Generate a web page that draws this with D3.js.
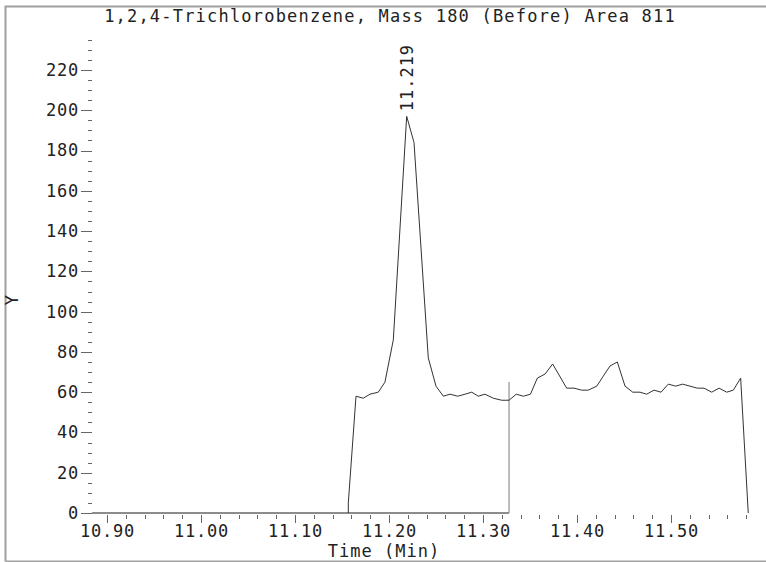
<!DOCTYPE html>
<html>
<head>
<meta charset="utf-8">
<title>1,2,4-Trichlorobenzene</title>
<script src="https://d3js.org/d3.v7.min.js"></script>
<style>
  body { margin: 0; background: #fff; }
  text { font-family: "DejaVu Sans Mono", "Liberation Mono", monospace; fill: #222; }
</style>
</head>
<body>
<div id="chart"></div>
<script>
// Data
const times = [11.1567, 11.1567, 11.1649, 11.1727, 11.1798, 11.1886, 11.1957, 11.2046, 11.2188, 11.2266,
  11.2418, 11.2500, 11.2578, 11.2649, 11.2731, 11.2809, 11.2880, 11.2950, 11.3021, 11.3110,
  11.3199, 11.3277, 11.3354, 11.3429, 11.3505, 11.3578, 11.3660, 11.3741, 11.3890, 11.3968,
  11.4050, 11.4120, 11.4210, 11.4280, 11.4351, 11.4429, 11.4511, 11.4593, 11.4670, 11.4741,
  11.4819, 11.4894, 11.4971, 11.5050, 11.5124, 11.5202, 11.5280, 11.5351, 11.5433, 11.5511,
  11.5593, 11.5663, 11.5741, 11.5822];
const intensities = [0, 5, 58, 57, 59, 60, 65, 86, 197, 184,
  77, 63, 58, 59, 58, 59, 60, 58, 59, 57,
  56, 56, 59, 58, 59, 67, 69, 74, 62, 62,
  61, 61, 63, 68, 73, 75, 63, 60, 60, 59,
  61, 60, 64, 63, 64, 63, 62, 62, 60, 62,
  60, 61, 67, 0];

const xMajorTicks = [10.90, 11.00, 11.10, 11.20, 11.30, 11.40, 11.50];
const xMinorTicks = d3.range(10.90, 11.5801, 0.02);
const yMajorTicks = [0, 20, 40, 60, 80, 100, 120, 140, 160, 180, 200, 220];
const yMinorTicks = d3.range(0, 236, 5);

const titleText = "1,2,4-Trichlorobenzene, Mass 180 (Before) Area 811";
const peakTime = 11.219;
const peakValue = 197;
const markerTime = 11.3277;   // integration end
const markerValue = 65;
const axisStart = 10.884;

const width = 766, height = 562;
const fontSize = "17px";

const svg = d3.select("#chart").append("svg")
  .attr("width", width)
  .attr("height", height);

// Scales
const x = d3.scaleLinear().domain([10.90, 11.50]).range([107, 671]);
const y = d3.scaleLinear().domain([0, 220]).range([513, 70]);

// Frame
svg.append("path")
  .attr("d", "M5.5,561.5 V6.5 H766 M5.5,561.5 H766")
  .attr("fill", "none")
  .attr("stroke", "#a0a0a0")
  .attr("stroke-width", 2);

// Title
svg.append("text")
  .attr("x", 390)
  .attr("y", 22)
  .attr("text-anchor", "middle")
  .style("font-size", fontSize)
  .style("letter-spacing", "1.2px")
  .text(titleText);

// Y axis (no domain line, just ticks)
const yMinor = svg.append("g")
  .attr("transform", "translate(92,0)")
  .call(d3.axisLeft(y).tickValues(yMinorTicks).tickSize(4).tickFormat(""));
yMinor.select(".domain").remove();

const yMajor = svg.append("g")
  .attr("transform", "translate(92,0)")
  .call(d3.axisLeft(y).tickValues(yMajorTicks).tickSize(11).tickPadding(2).tickFormat(d3.format("d")));
yMajor.select(".domain").remove();
yMajor.selectAll("text")
  .style("font-size", fontSize)
  .style("letter-spacing", "0.8px")
  .style("font-family", "DejaVu Sans Mono, monospace")
  .attr("fill", "#222");

// X axis
const xMinor = svg.append("g")
  .attr("transform", "translate(0,515)")
  .call(d3.axisBottom(x).tickValues(xMinorTicks).tickSize(4).tickFormat(""));
xMinor.select(".domain").remove();

const xMajor = svg.append("g")
  .attr("transform", "translate(0,515)")
  .call(d3.axisBottom(x).tickValues(xMajorTicks).tickSize(8).tickPadding(2).tickFormat(d3.format(".2f")));
xMajor.select(".domain").remove();
xMajor.selectAll("text")
  .style("font-size", fontSize)
  .style("letter-spacing", "0.8px")
  .style("font-family", "DejaVu Sans Mono, monospace")
  .attr("fill", "#222");

svg.selectAll(".tick line")
  .attr("stroke", "#666")
  .attr("shape-rendering", "crispEdges");

// Baseline and integration marker
svg.append("line")
  .attr("x1", x(axisStart))
  .attr("x2", x(markerTime))
  .attr("y1", y(0))
  .attr("y2", y(0))
  .attr("stroke", "#666")
  .attr("stroke-width", 1.3);

svg.append("line")
  .attr("x1", x(markerTime))
  .attr("x2", x(markerTime))
  .attr("y1", y(0))
  .attr("y2", y(markerValue))
  .attr("stroke", "#999")
  .attr("stroke-width", 1.3);

// Trace
const line = d3.line()
  .x((d, i) => x(times[i]))
  .y(d => y(d));

svg.append("path")
  .datum(intensities)
  .attr("d", line)
  .attr("fill", "none")
  .attr("stroke", "#333")
  .attr("stroke-width", 1);

// Peak label
svg.append("text")
  .attr("transform", `translate(${x(peakTime) + 6},${y(peakValue) - 5}) rotate(-90)`)
  .attr("text-anchor", "start")
  .style("font-size", fontSize)
  .style("letter-spacing", "1px")
  .text(peakTime.toFixed(3));

// Axis titles
svg.append("text")
  .attr("x", 384)
  .attr("y", 557)
  .attr("text-anchor", "middle")
  .style("font-size", fontSize)
  .style("letter-spacing", "1px")
  .text("Time (Min)");

svg.append("text")
  .attr("transform", "translate(18,300) rotate(-90)")
  .attr("text-anchor", "middle")
  .style("font-size", fontSize)
  .text("Y");
</script>
</body>
</html>
